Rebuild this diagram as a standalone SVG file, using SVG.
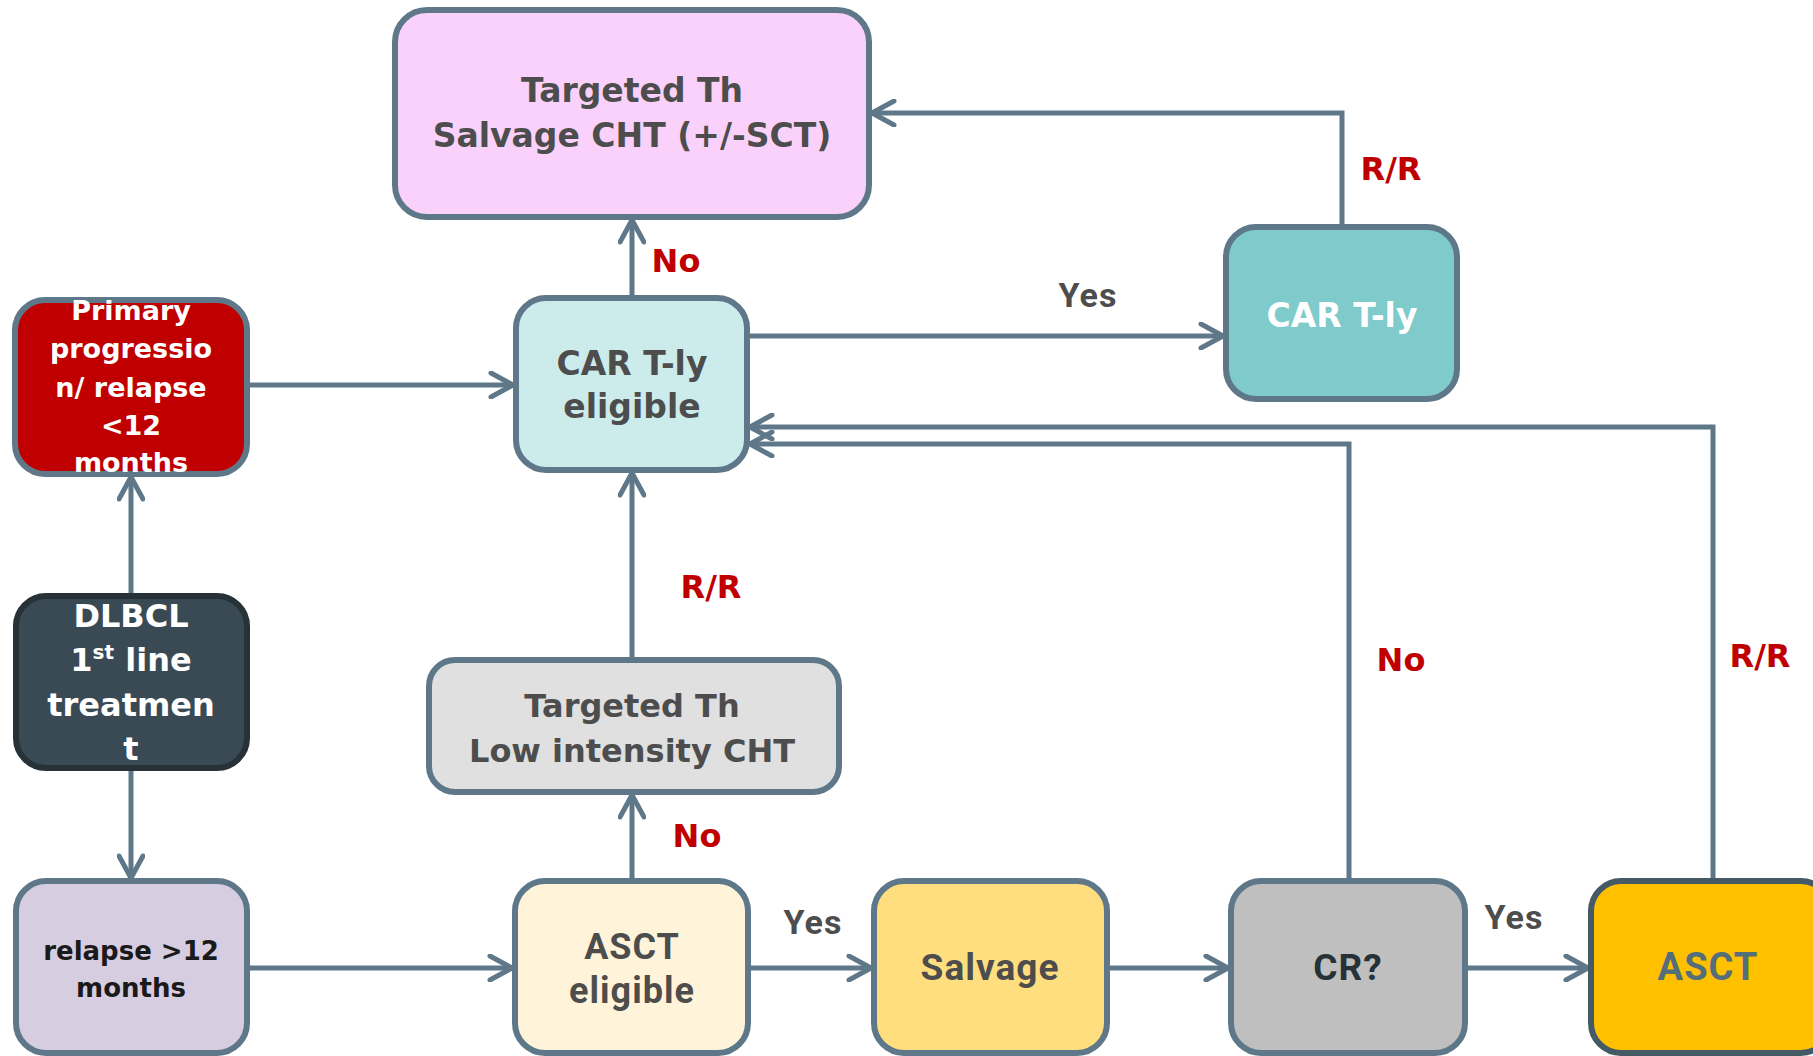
<svg xmlns="http://www.w3.org/2000/svg" width="1813" height="1056" viewBox="0 0 1813 1056">
<defs>
<marker id="arr" viewBox="0 0 28 28" refX="25" refY="14" markerWidth="28" markerHeight="28" markerUnits="userSpaceOnUse" orient="auto">
<path d="M3,2 L25,14 L3,26" fill="none" stroke="#5E7889" stroke-width="5" stroke-linecap="round" stroke-linejoin="round"/>
</marker>
<style>
.box{stroke:#5E7889;stroke-width:6}
.t{font-family:"DejaVu Sans","Open Sans",sans-serif;font-weight:700;text-anchor:middle}
.c{font-family:Roboto,"Liberation Sans",sans-serif;font-weight:700;text-anchor:middle;letter-spacing:1px}
.gray{fill:#4D4D4D}
.white{fill:#FFFFFF}
.red{fill:#C00000}
.conn{fill:none;stroke:#5E7889;stroke-width:5}
</style>
</defs>
<g id="connectors">
<path class="conn" d="M131,594 V477" marker-end="url(#arr)"/>
<path class="conn" d="M131,769 V878" marker-end="url(#arr)"/>
<path class="conn" d="M250,385 H513" marker-end="url(#arr)"/>
<path class="conn" d="M250,968 H512" marker-end="url(#arr)"/>
<path class="conn" d="M632,878 V795" marker-end="url(#arr)"/>
<path class="conn" d="M632,657 V473" marker-end="url(#arr)"/>
<path class="conn" d="M632,295 V220" marker-end="url(#arr)"/>
<path class="conn" d="M750,336 H1223" marker-end="url(#arr)"/>
<path class="conn" d="M1342,224 V113 H872" marker-end="url(#arr)"/>
<path class="conn" d="M751,968 H871" marker-end="url(#arr)"/>
<path class="conn" d="M1110,968 H1228" marker-end="url(#arr)"/>
<path class="conn" d="M1468,968 H1588" marker-end="url(#arr)"/>
<path class="conn" d="M1349,878 V444 H750" marker-end="url(#arr)"/>
<path class="conn" d="M1713,878 V427 H750" marker-end="url(#arr)"/>
<text class="t red" x="676" y="272" font-size="32">No</text>
<text class="c gray" x="1088" y="307" font-size="34">Yes</text>
<text class="t red" x="1391" y="180" font-size="32">R/R</text>
<text class="t red" x="711" y="598" font-size="32">R/R</text>
<text class="t red" x="1401" y="671" font-size="32">No</text>
<text class="t red" x="1760" y="667" font-size="32">R/R</text>
<text class="t red" x="697" y="847" font-size="32">No</text>
<text class="c gray" x="813" y="934" font-size="34">Yes</text>
<text class="c gray" x="1514" y="929" font-size="34">Yes</text>
</g>
<g id="salvageCHT">
<rect class="box" x="395" y="10" width="474" height="207" rx="32" fill="#FAD1FA"/>
<text class="t gray" x="632" y="102" font-size="33">Targeted Th</text>
<text class="t gray" x="632" y="147" font-size="33">Salvage CHT (+/-SCT)</text>
</g>
<g id="primary">
<rect class="box" x="15" y="300" width="232" height="174" rx="30" fill="#C00000"/>
<text class="t white" x="131" y="320" font-size="27">Primary</text>
<text class="t white" x="131" y="358" font-size="27">progressio</text>
<text class="t white" x="131" y="397" font-size="27">n/ relapse</text>
<text class="t white" x="131" y="435" font-size="27">&lt;12</text>
<text class="t white" x="131" y="472" font-size="27">months</text>
</g>
<g id="carEligible">
<rect class="box" x="516" y="298" width="231" height="172" rx="30" fill="#CCEBEB"/>
<text class="t gray" x="632" y="375" font-size="33">CAR T-ly</text>
<text class="t gray" x="632" y="418" font-size="33">eligible</text>
</g>
<g id="carT">
<rect class="box" x="1226" y="227" width="231" height="172" rx="30" fill="#7FCACB"/>
<text class="t white" x="1342" y="327" font-size="33">CAR T-ly</text>
</g>
<g id="lowIntensity">
<rect class="box" x="429" y="660" width="410" height="132" rx="26" fill="#E0E0E0"/>
<text class="t gray" x="632" y="717" font-size="32">Targeted Th</text>
<text class="t gray" x="632" y="762" font-size="32">Low intensity CHT</text>
</g>
<g id="dlbcl">
<rect x="16" y="596" width="231" height="172" rx="30" fill="#3A4A54" stroke="#263238" stroke-width="6"/>
<text class="t white" x="131" y="627" font-size="32">DLBCL</text>
<text class="t white" x="131" y="671" font-size="32">1<tspan font-size="20" dy="-12">st</tspan><tspan dy="12"> line</tspan></text>
<text class="t white" x="131" y="716" font-size="32">treatmen</text>
<text class="t white" x="131" y="760" font-size="32">t</text>
</g>
<g id="relapse">
<rect class="box" x="16" y="881" width="231" height="172" rx="30" fill="#D7CDE1"/>
<text class="t" fill="#1A1A1A" x="131" y="960" font-size="26">relapse &gt;12</text>
<text class="t" fill="#1A1A1A" x="131" y="997" font-size="26">months</text>
</g>
<g id="asctEligible">
<rect class="box" x="515" y="881" width="233" height="172" rx="30" fill="#FFF4DA"/>
<text class="c gray" x="632" y="959" font-size="36">ASCT</text>
<text class="c gray" x="632" y="1003" font-size="36">eligible</text>
</g>
<g id="salvage">
<rect class="box" x="874" y="881" width="233" height="172" rx="30" fill="#FFDE7F"/>
<text class="c gray" x="990" y="980" font-size="37">Salvage</text>
</g>
<g id="cr">
<rect class="box" x="1231" y="881" width="234" height="172" rx="30" fill="#BFBFBF"/>
<text class="c" fill="#263238" x="1348" y="980" font-size="37">CR?</text>
</g>
<g id="asct">
<rect x="1591" y="881" width="240" height="172" rx="30" fill="#FFC000" stroke="#455A64" stroke-width="6"/>
<text class="c" fill="#546E7A" x="1708" y="980" font-size="38">ASCT</text>
</g>
</svg>
